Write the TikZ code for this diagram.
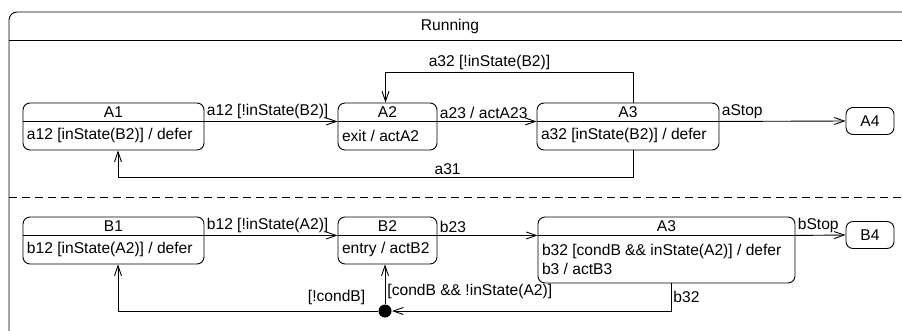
\documentclass[tikz,border=0pt]{standalone}
\usepackage{fontspec}
\setmainfont{Liberation Sans}
\usetikzlibrary{positioning,calc,arrows.meta}

\tikzset{
    sbox/.style={draw, rounded corners=7pt, inner sep=0pt},
    stitle/.style={anchor=north, inner sep=0pt, minimum height=18pt},
    sbody/.style={anchor=west, align=left, inner xsep=4pt, inner ysep=0pt},
    transit/.style={-{Straight Barb[length=10pt, width=7pt]}},
    lbl/.style={inner sep=2pt},
    junction/.style={circle, fill, inner sep=0pt, minimum size=13pt}
}

\begin{document}
\begin{tikzpicture}[x=1pt, y=-1pt, line width=0.9pt, font=\fontsize{15.6}{19}\selectfont]
    \useasboundingbox (0,0) rectangle (902,330);
    \clip (0,0) rectangle (902,330);

    % Running
    \draw[rounded corners=8pt] (9,12) rectangle (920,350);
    \draw (9,40) -- (920,40);
    \node (run) at (450,26) {Running};
    \draw[dash pattern=on 8pt off 5pt] (9,197) -- (920,197);

    % Region A
    \node[sbox, minimum width=181pt, minimum height=47pt] (A1) at (113.5,126.5) {};
    \node[stitle] (A1t) at (A1.north) {A1};
    \draw (A1t.south -| A1.west) -- (A1t.south -| A1.east);
    \node[sbody] (A1b) at ($(A1t.south -| A1.west)!0.5!(A1.south west)$) {a12 [inState(B2)] / defer};

    \node[sbox, minimum width=99pt, minimum height=47pt] (A2) at (387.5,126.5) {};
    \node[stitle] (A2t) at (A2.north) {A2};
    \draw (A2t.south -| A2.west) -- (A2t.south -| A2.east);
    \node[sbody] (A2b) at ($(A2t.south -| A2.west)!0.5!(A2.south west)$) {exit / actA2};

    \node[sbox, minimum width=182pt, minimum height=47pt] (A3) at (628,126.5) {};
    \node[stitle] (A3t) at (A3.north) {A3};
    \draw (A3t.south -| A3.west) -- (A3t.south -| A3.east);
    \node[sbody] (A3b) at ($(A3t.south -| A3.west)!0.5!(A3.south west)$) {a32 [inState(B2)] / defer};

    \node[sbox, minimum width=48pt, minimum height=27pt] (A4) at (870,121) {A4};

    \draw[transit] (A1t.south -| A1.east) -- node[lbl, above right, pos=0] (la12) {a12 [!inState(B2)]} (A2t.south -| A2.west);
    \draw[transit] (A2t.south -| A2.east) -- node[lbl, above right, pos=0] (la23) {a23 / actA23} (A3t.south -| A3.west);
    \draw[transit] (A3t.south -| A3.east) -- node[lbl, above right, pos=0] (lastop) {aStop} (A4.west);
    \draw[transit] ([xshift=5pt]A3.north) -- ++(0,-30) -| node[lbl, above, pos=0.29] (la32) {a32 [!inState(B2)]} ([xshift=-2pt]A2.north);
    \draw[transit] ([xshift=5pt]A3.south) -- ++(0,27) -| node[lbl, above, pos=0.18] (la31) {a31} ([xshift=4.5pt]A1.south);

    % Region B
    \node[sbox, minimum width=181pt, minimum height=47pt] (B1) at (113.5,240.5) {};
    \node[stitle] (B1t) at (B1.north) {B1};
    \draw (B1t.south -| B1.west) -- (B1t.south -| B1.east);
    \node[sbody] (B1b) at ($(B1t.south -| B1.west)!0.5!(B1.south west)$) {b12 [inState(A2)] / defer};

    \node[sbox, minimum width=99pt, minimum height=47pt] (B2) at (387.5,240.5) {};
    \node[stitle] (B2t) at (B2.north) {B2};
    \draw (B2t.south -| B2.west) -- (B2t.south -| B2.east);
    \node[sbody] (B2b) at ($(B2t.south -| B2.west)!0.5!(B2.south west)$) {entry / actB2};

    \node[sbox, minimum width=257pt, minimum height=66pt] (B3) at (666.5,250) {};
    \node[stitle] (B3t) at (B3.north) {A3};
    \draw (B3t.south -| B3.west) -- (B3t.south -| B3.east);
    \node[sbody] (B3b) at ($(B3t.south -| B3.west)!0.5!(B3.south west)$) {b32 [condB \&\& inState(A2)] / defer\\b3 / actB3};

    \node[sbox, minimum width=48pt, minimum height=27pt] (B4) at (870,235) {B4};

    \node[junction] (J) at (385,311) {};

    \draw[transit] (B1t.south -| B1.east) -- node[lbl, above right, pos=0] (lb12) {b12 [!inState(A2)]} (B2t.south -| B2.west);
    \draw[transit] (B2t.south -| B2.east) -- node[lbl, above right, pos=0] (lb23) {b23} (B3t.south -| B3.west);
    \draw[transit] (B3t.south -| B3.east) -- node[lbl, above right, pos=0] (lbstop) {bStop} (B4.west);
    \draw[transit] ([xshift=4.5pt]B3.south) |- node[lbl, right, pos=0.25] (lb32) {b32} (J);
    \draw[transit] (J) -- node[lbl, right, pos=0.32] (lcond) {[condB \&\& !inState(A2)]} (J |- B2.south);
    \draw[transit] (J) -| node[lbl, above left, pos=0.02, yshift=4pt] (lncond) {[!condB]} ([xshift=4.5pt]B1.south);

\end{tikzpicture}
\end{document}
